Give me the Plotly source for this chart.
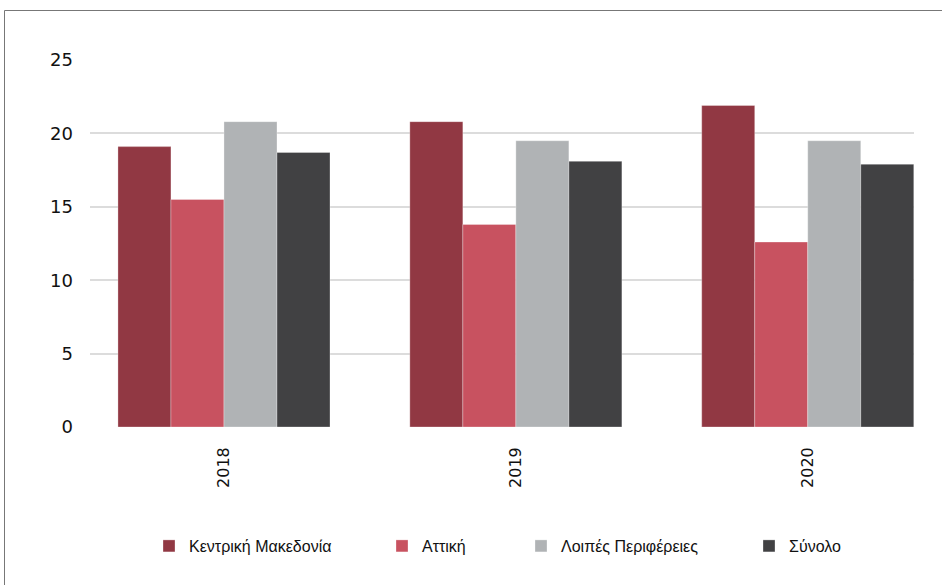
import plotly.graph_objects as go

years = ["2018", "2019", "2020"]
series_names = ["Κεντρική Μακεδονία", "Αττική", "Λοιπές Περιφέρειες", "Σύνολο"]
kentriki_makedonia = [19.1, 20.8, 21.9]
attiki = [15.5, 13.8, 12.6]
loipes_perifereies = [20.8, 19.5, 19.5]
synolo = [18.7, 18.1, 17.9]
y_ticks = [0, 5, 10, 15, 20, 25]

values = [kentriki_makedonia, attiki, loipes_perifereies, synolo]
colors = ["#913843", "#C85260", "#B0B3B5", "#414143"]
legend_ids = ["legend", "legend2", "legend3", "legend4"]

W, H = 942, 585
L, R, T, B = 90, 28, 60, 158
pw = W - L - R
ph = H - T - B

def px_x(p):
    return (p - L) / pw

def px_y(p):
    return (H - B - p) / ph

fig = go.Figure()
for name, vals, col, lg in zip(series_names, values, colors, legend_ids):
    fig.add_trace(go.Bar(
        x=years, y=vals, name=name, legend=lg,
        marker=dict(color=col, line=dict(color="rgba(255,255,255,0.3)", width=1)),
    ))

sym_left = [165, 398, 537, 765]
legend_font = dict(family="Liberation Sans, Arial, sans-serif", size=16, color="#111111")
legend_layouts = {}
for lg, sl in zip(legend_ids, sym_left):
    legend_layouts[lg] = dict(
        x=px_x(sl - 16), xanchor="left", y=px_y(546), yanchor="middle",
        orientation="h", font=legend_font, bgcolor="rgba(0,0,0,0)",
        itemclick=False, itemdoubleclick=False,
    )

fig.update_layout(
    width=W, height=H,
    margin=dict(l=L, r=R, t=T, b=B, pad=0),
    paper_bgcolor="white", plot_bgcolor="white",
    barmode="group", bargap=0.2735, bargroupgap=0,
    showlegend=True,
    font=dict(family="DejaVu Sans, sans-serif", color="#111111"),
    xaxis=dict(
        type="category", range=[-0.459, 2.364], showgrid=False, ticks="",
        tickangle=-90, tickfont=dict(size=16, family="DejaVu Sans, sans-serif"),
        ticklabelstandoff=16, showline=False, zeroline=False,
    ),
    yaxis=dict(
        range=[0, 25], tickvals=y_ticks, showgrid=True, gridcolor="#dcdcdc",
        gridwidth=1.5, zeroline=False, showline=False, ticks="",
        tickfont=dict(size=18, family="DejaVu Sans, sans-serif"),
        ticklabelstandoff=16,
    ),
    shapes=[dict(
        type="rect", xref="paper", yref="paper",
        x0=px_x(4.5), x1=px_x(990), y0=px_y(640), y1=px_y(10.5),
        line=dict(color="#777777", width=1), fillcolor="rgba(0,0,0,0)", layer="above",
    )],
    **legend_layouts,
)

fig.write_html("out.html", config={"displayModeBar": False},
               post_script="document.body.style.margin='0';")
